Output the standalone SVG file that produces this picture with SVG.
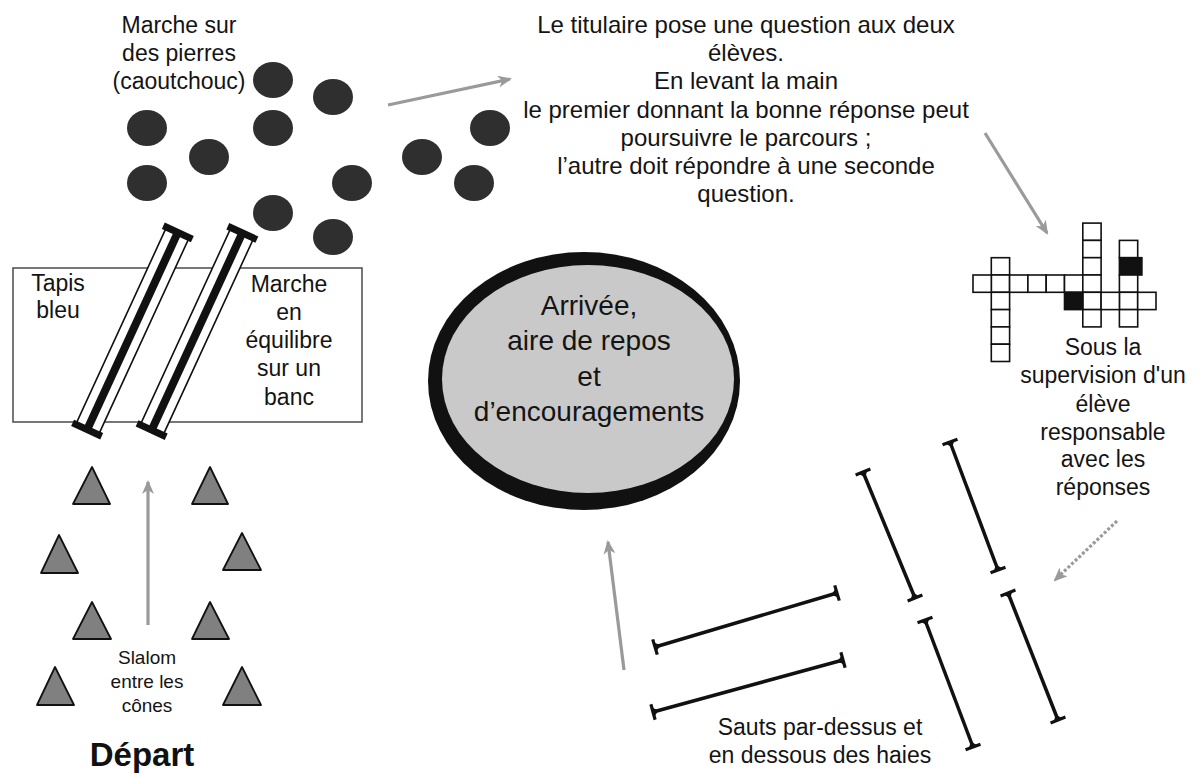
<svg xmlns="http://www.w3.org/2000/svg" xmlns:xlink="http://www.w3.org/1999/xlink" width="1199" height="773" viewBox="0 0 1199 773">
<style>
.t{font-family:"Liberation Sans",Arial,sans-serif;font-size:23px;fill:#141414;text-anchor:middle}
.top{font-size:24px}
.small{font-size:19px}
.big{font-size:28px}
.bold{font-family:"Liberation Sans",Arial,sans-serif;font-size:33px;font-weight:bold;fill:#111;text-anchor:middle}
.stone{fill:#2f2f2f}
.cone{fill:#808080;stroke:#111;stroke-width:1.8;stroke-linejoin:round}
.cw{fill:#fff;stroke:#111;stroke-width:1.6}
.cwb{fill:#111;stroke:#111;stroke-width:1.6}
.arr{stroke:#9a9a9a;stroke-width:3.2;fill:none;marker-end:url(#ah)}
.hurdle{stroke:#111;stroke-width:3.5;fill:none;marker-start:url(#cap);marker-end:url(#cap)}
</style>
<defs>
<marker id="ah" viewBox="0 0 14 12" refX="12" refY="6" markerWidth="14" markerHeight="12" markerUnits="userSpaceOnUse" orient="auto">
<path d="M0,0 L14,6 L0,12 L4,6 Z" fill="#9a9a9a"/>
</marker>
<marker id="cap" viewBox="-8 -10 16 20" refX="0" refY="0" markerWidth="16" markerHeight="20" markerUnits="userSpaceOnUse" orient="auto-start-reverse">
<path d="M0,-8 L0,8" stroke="#111" stroke-width="3.2"/>
<path d="M0.5,-5 L-6,0 L0.5,5 Z" fill="#111"/>
</marker>
<g id="benchShape">
<rect x="-12.5" y="-108" width="25" height="216" fill="#fff" stroke="#111" stroke-width="1.6"/>
<rect x="-4" y="-108" width="8" height="216" fill="#111"/>
<rect x="-16" y="-112" width="32" height="7" fill="#111"/>
<rect x="-16" y="105" width="32" height="7" fill="#111"/>
</g>
</defs>
<rect width="1199" height="773" fill="#fff"/>

<g id="stones">
<ellipse class="stone" cx="273" cy="80" rx="20" ry="18"/>
<ellipse class="stone" cx="333" cy="97" rx="20" ry="18"/>
<ellipse class="stone" cx="147" cy="128" rx="20" ry="18"/>
<ellipse class="stone" cx="273" cy="128" rx="20" ry="18"/>
<ellipse class="stone" cx="209" cy="157" rx="20" ry="18"/>
<ellipse class="stone" cx="147" cy="183" rx="20" ry="18"/>
<ellipse class="stone" cx="352" cy="183" rx="20" ry="18"/>
<ellipse class="stone" cx="422" cy="157" rx="20" ry="18"/>
<ellipse class="stone" cx="490" cy="128" rx="20" ry="18"/>
<ellipse class="stone" cx="474" cy="183" rx="20" ry="18"/>
<ellipse class="stone" cx="273" cy="213" rx="20" ry="18"/>
<ellipse class="stone" cx="333" cy="237" rx="20" ry="18"/>
<text class="t"><tspan x="179" y="33">Marche sur</tspan><tspan x="179" y="61">des pierres</tspan><tspan x="179" y="89">(caoutchouc)</tspan></text>
</g>

<g id="question">
<text class="t top"><tspan x="746" y="33">Le titulaire pose une question aux deux</tspan><tspan x="746" y="61">élèves.</tspan><tspan x="746" y="89">En levant la main</tspan><tspan x="746" y="118">le premier donnant la bonne réponse peut</tspan><tspan x="746" y="146">poursuivre le parcours ;</tspan><tspan x="746" y="174">l’autre doit répondre à une seconde</tspan><tspan x="746" y="202">question.</tspan></text>
</g>

<g id="tapis">
<rect x="13" y="268" width="349" height="154" fill="none" stroke="#555" stroke-width="1.6"/>
<text class="t"><tspan x="58" y="291">Tapis</tspan><tspan x="58" y="318">bleu</tspan></text>
</g>

<g id="bench1" transform="translate(132.5,331) rotate(24.7)"><use xlink:href="#benchShape" href="#benchShape"/></g>
<g id="bench2" transform="translate(197,331.5) rotate(24.7)"><use xlink:href="#benchShape" href="#benchShape"/></g>

<g id="bench-label">
<text class="t"><tspan x="289" y="292">Marche</tspan><tspan x="289" y="320">en</tspan><tspan x="289" y="348">équilibre</tspan><tspan x="289" y="376">sur un</tspan><tspan x="289" y="405">banc</tspan></text>
</g>

<g id="arrivee">
<ellipse cx="584" cy="381" rx="156" ry="129" fill="#111"/>
<ellipse cx="588" cy="379" rx="146" ry="114" fill="#c9c9c9"/>
<text class="t big"><tspan x="589" y="315">Arrivée,</tspan><tspan x="589" y="350">aire de repos</tspan><tspan x="589" y="386">et</tspan><tspan x="589" y="421">d’encouragements</tspan></text>
</g>

<g id="crossword">
<rect class="cw" x="991.3" y="257.7" width="18.3" height="17.3"/>
<rect class="cw" x="991.3" y="275" width="18.3" height="17.3"/>
<rect class="cw" x="991.3" y="292.3" width="18.3" height="17.3"/>
<rect class="cw" x="991.3" y="309.6" width="18.3" height="17.3"/>
<rect class="cw" x="991.3" y="326.9" width="18.3" height="17.3"/>
<rect class="cw" x="991.3" y="344.2" width="18.3" height="17.3"/>
<rect class="cw" x="973" y="275" width="18.3" height="17.3"/>
<rect class="cw" x="1009.6" y="275" width="18.3" height="17.3"/>
<rect class="cw" x="1027.9" y="275" width="18.3" height="17.3"/>
<rect class="cw" x="1046.2" y="275" width="18.3" height="17.3"/>
<rect class="cw" x="1064.5" y="275" width="18.3" height="17.3"/>
<rect class="cw" x="1082.8" y="223.1" width="18.3" height="17.3"/>
<rect class="cw" x="1082.8" y="240.4" width="18.3" height="17.3"/>
<rect class="cw" x="1082.8" y="257.7" width="18.3" height="17.3"/>
<rect class="cw" x="1082.8" y="275" width="18.3" height="17.3"/>
<rect class="cw" x="1082.8" y="292.3" width="18.3" height="17.3"/>
<rect class="cw" x="1082.8" y="309.6" width="18.3" height="17.3"/>
<rect class="cw" x="1119.4" y="240.4" width="18.3" height="17.3"/>
<rect class="cwb" x="1119.4" y="257.7" width="22.5" height="17.3"/>
<rect class="cw" x="1119.4" y="275" width="18.3" height="17.3"/>
<rect class="cw" x="1119.4" y="292.3" width="18.3" height="17.3"/>
<rect class="cw" x="1119.4" y="309.6" width="18.3" height="17.3"/>
<rect class="cwb" x="1064.5" y="292.3" width="18.3" height="17.3"/>
<rect class="cw" x="1101.1" y="292.3" width="18.3" height="17.3"/>
<rect class="cw" x="1137.7" y="292.3" width="18.3" height="17.3"/>
<text class="t"><tspan x="1103" y="355">Sous la</tspan><tspan x="1103" y="383">supervision d'un</tspan><tspan x="1103" y="412">élève</tspan><tspan x="1103" y="440">responsable</tspan><tspan x="1103" y="467">avec les</tspan><tspan x="1103" y="495">réponses</tspan></text>
</g>

<g id="hurdles">
<line class="hurdle" x1="655" y1="647" x2="837" y2="593"/>
<line class="hurdle" x1="653" y1="712" x2="843" y2="660"/>
<line class="hurdle" x1="863" y1="472" x2="915" y2="598"/>
<line class="hurdle" x1="950" y1="442" x2="998" y2="570"/>
<line class="hurdle" x1="925" y1="620" x2="973" y2="747"/>
<line class="hurdle" x1="1008" y1="593" x2="1058" y2="720"/>
<text class="t"><tspan x="820" y="735">Sauts par-dessus et</tspan><tspan x="820" y="763">en dessous des haies</tspan></text>
</g>

<g id="cones">
<polygon class="cone" points="92,467 73,504 110,504"/>
<polygon class="cone" points="210,467 192,504 228,504"/>
<polygon class="cone" points="59,535 41,573 78,573"/>
<polygon class="cone" points="242,533 223,570 261,570"/>
<polygon class="cone" points="92,602 73,639 111,639"/>
<polygon class="cone" points="210,602 192,639 229,639"/>
<polygon class="cone" points="55,667 37,705 74,705"/>
<polygon class="cone" points="242,667 223,705 261,705"/>
<text class="t small"><tspan x="147" y="664">Slalom</tspan><tspan x="147" y="688">entre les</tspan><tspan x="147" y="712">cônes</tspan></text>
</g>

<g id="depart">
<text class="bold" x="142" y="766">Départ</text>
</g>

<g id="connectors">
<line class="arr" x1="388" y1="105" x2="510" y2="79"/>
<line class="arr" x1="985" y1="133" x2="1047" y2="233"/>
<line class="arr" x1="1117" y1="521" x2="1055" y2="580" stroke-dasharray="3 2"/>
<line class="arr" x1="624" y1="670" x2="608" y2="542"/>
<line class="arr" x1="148" y1="625" x2="148" y2="482"/>
</g>
</svg>
